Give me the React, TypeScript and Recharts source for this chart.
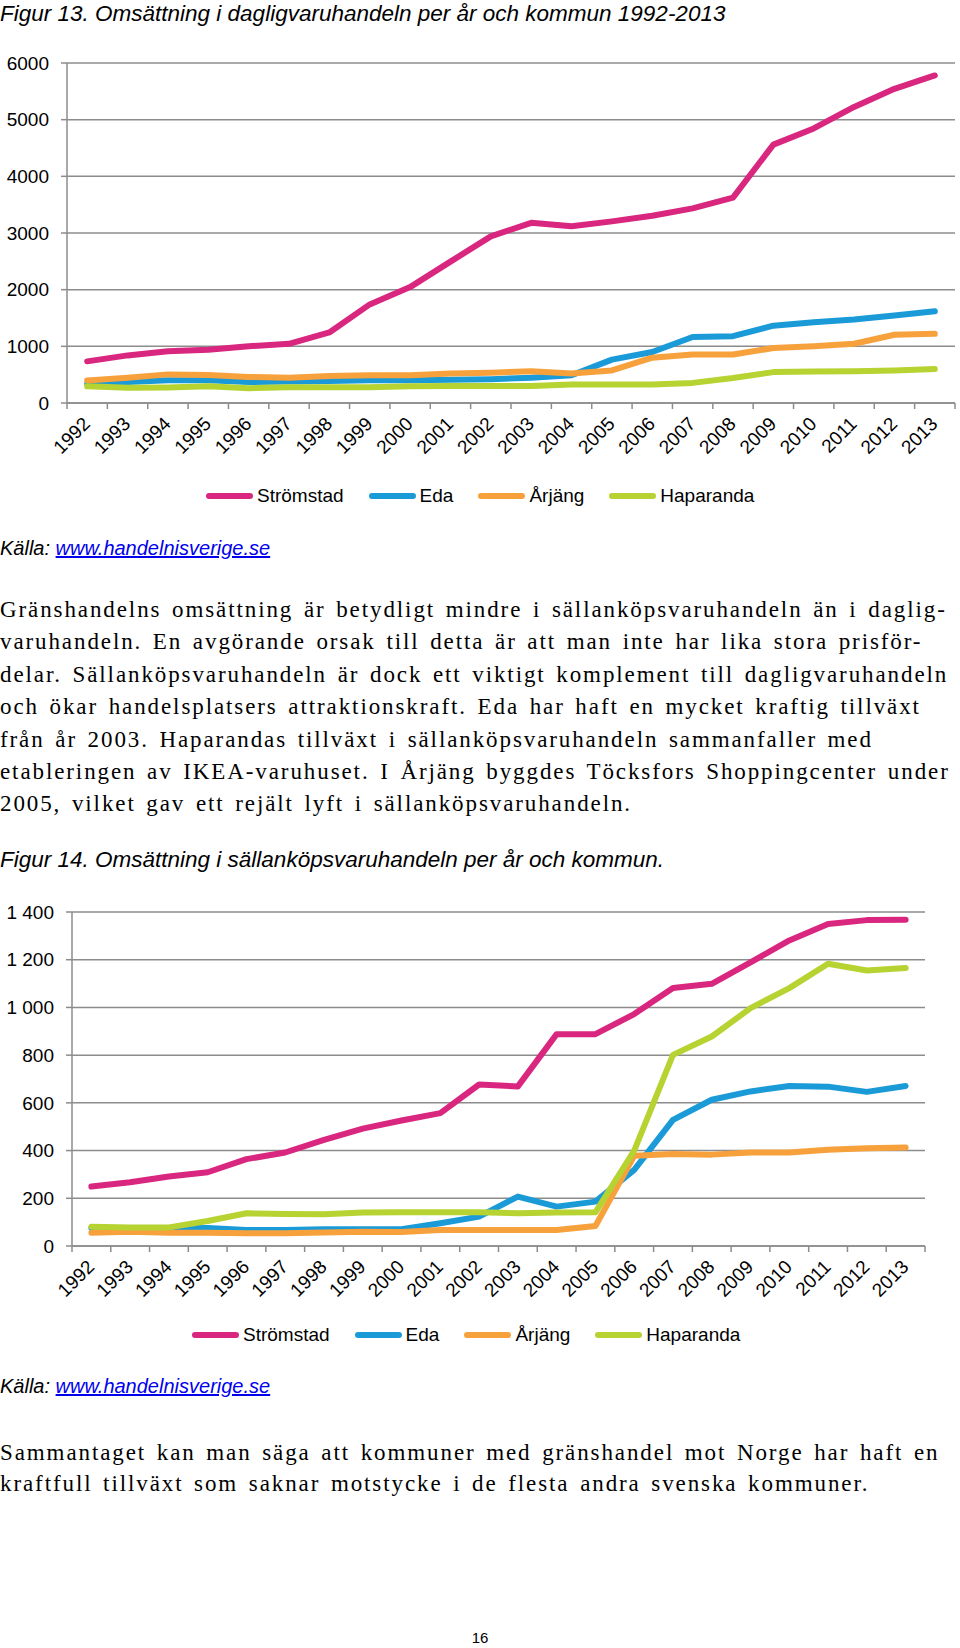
import React from 'react';
import { LineChart, Line, XAxis, YAxis, CartesianGrid } from 'recharts';

const years = [
  '1992', '1993', '1994', '1995', '1996', '1997', '1998', '1999', '2000', '2001', '2002',
  '2003', '2004', '2005', '2006', '2007', '2008', '2009', '2010', '2011', '2012', '2013',
];

// Figur 13 – dagligvaruhandeln
const stromstadDaglig = [735, 840, 915, 940, 1000, 1045, 1245, 1740, 2045, 2495, 2940, 3180, 3120, 3205, 3305, 3435, 3625, 4560, 4845, 5225, 5545, 5780];
const edaDaglig = [340, 370, 400, 400, 370, 380, 390, 400, 400, 410, 420, 445, 490, 765, 900, 1165, 1180, 1365, 1425, 1475, 1545, 1620];
const arjangDaglig = [395, 445, 505, 495, 460, 445, 475, 490, 490, 520, 535, 560, 520, 575, 800, 855, 855, 970, 1000, 1045, 1205, 1220];
const haparandaDaglig = [295, 270, 275, 295, 260, 280, 280, 280, 295, 300, 300, 300, 325, 325, 325, 355, 440, 545, 555, 560, 575, 600];
const dagligTicks = [0, 1000, 2000, 3000, 4000, 5000, 6000];

// Figur 14 – sällanköpsvaruhandeln
const stromstadSallan = [249, 267, 291, 309, 364, 392, 445, 492, 526, 557, 677, 669, 888, 888, 972, 1081, 1099, 1189, 1281, 1350, 1366, 1368];
const edaSallan = [75, 75, 75, 75, 67, 67, 70, 70, 70, 95, 123, 207, 165, 186, 319, 529, 613, 648, 671, 668, 646, 671];
const arjangSallan = [56, 60, 56, 56, 53, 53, 57, 60, 59, 67, 67, 67, 67, 84, 378, 386, 383, 392, 392, 403, 410, 413];
const haparandaSallan = [81, 78, 78, 105, 137, 134, 133, 140, 141, 141, 141, 137, 140, 141, 400, 801, 878, 997, 1081, 1183, 1155, 1165];
const sallanTicks = [0, 200, 400, 600, 800, 1000, 1200, 1400];

const seriesNames = ['Strömstad', 'Eda', 'Årjäng', 'Haparanda'];
const seriesKeys = ['stromstad', 'eda', 'arjang', 'haparanda'];
const seriesColors = ['#D9277F', '#1B9AD8', '#F7A13C', '#B6D332'];

const SANS = '"Liberation Sans", Arial, sans-serif';
const SERIF = '"Liberation Serif", "Times New Roman", serif';
const AXIS = '#8c8c8c';

const dagligData = years.map((year, i) => ({
  year,
  stromstad: stromstadDaglig[i],
  eda: edaDaglig[i],
  arjang: arjangDaglig[i],
  haparanda: haparandaDaglig[i],
}));

const sallanData = years.map((year, i) => ({
  year,
  stromstad: stromstadSallan[i],
  eda: edaSallan[i],
  arjang: arjangSallan[i],
  haparanda: haparandaSallan[i],
}));

function YearTick(props: any) {
  const { x, y, payload, index, band, count } = props;
  const left = x - band / 2;
  const right = x + band / 2;
  return (
    <g>
      <line x1={left} x2={left} y1={y} y2={y + 6} stroke={AXIS} strokeWidth={1.5} />
      {index === count - 1 && <line x1={right} x2={right} y1={y} y2={y + 6} stroke={AXIS} strokeWidth={1.5} />}
      <text
        x={x + 4}
        y={y + 22}
        transform={`rotate(-45 ${x + 4} ${y + 22})`}
        textAnchor="end"
        fontSize={19}
        fontFamily={SANS}
        fill="#000"
      >
        {payload.value}
      </text>
    </g>
  );
}

interface ChartProps {
  data: any[];
  ticks: number[];
  max: number;
  axisWidth: number;
  marginRight: number;
  marginTop: number;
  height: number;
  format?: (v: number) => string;
}

function TradeChart({ data, ticks, max, axisWidth, marginRight, marginTop, height, format }: ChartProps) {
  const band = (960 - axisWidth - marginRight) / years.length;
  return (
    <LineChart width={960} height={height} data={data} margin={{ top: marginTop, right: marginRight, left: 0, bottom: 4 }}>
      <CartesianGrid vertical={false} stroke={AXIS} strokeWidth={1.5} />
      <XAxis
        dataKey="year"
        interval={0}
        padding={{ left: band / 2, right: band / 2 }}
        height={60}
        tickSize={0}
        tickMargin={0}
        axisLine={{ stroke: AXIS, strokeWidth: 1.5 }}
        tickLine={false}
        tick={(p: any) => <YearTick {...p} band={band} count={years.length} />}
      />
      <YAxis
        width={axisWidth}
        domain={[0, max]}
        ticks={ticks}
        interval={0}
        tickSize={6}
        tickMargin={12}
        axisLine={{ stroke: AXIS, strokeWidth: 1.5 }}
        tickLine={{ stroke: AXIS, strokeWidth: 1.5 }}
        tick={{ fill: '#000', fontSize: 19, fontFamily: SANS }}
        tickFormatter={format}
      />
      {seriesKeys.map((key, i) => (
        <Line
          key={key}
          type="linear"
          dataKey={key}
          stroke={seriesColors[i]}
          strokeWidth={6}
          strokeLinejoin="round"
          strokeLinecap="round"
          dot={false}
          isAnimationActive={false}
        />
      ))}
    </LineChart>
  );
}

function ChartLegend({ left, top }: { left: number; top: number }) {
  return (
    <div style={{ position: 'absolute', left, top, display: 'flex', alignItems: 'center', fontFamily: SANS, fontSize: 19 }}>
      {seriesNames.map((name, i) => (
        <div key={name} style={{ display: 'flex', alignItems: 'center', marginRight: 25 }}>
          <span style={{ display: 'inline-block', width: 47, height: 6, borderRadius: 3, background: seriesColors[i], marginRight: 4 }} />
          <span>{name}</span>
        </div>
      ))}
    </div>
  );
}

function Source({ top }: { top: number }) {
  return (
    <div style={{ position: 'absolute', left: 0, top, fontFamily: SANS, fontSize: 20, fontStyle: 'italic', lineHeight: '24px' }}>
      Källa: <span style={{ color: '#0000ee', textDecoration: 'underline' }}>www.handelnisverige.se</span>
    </div>
  );
}

const para1 = [
  'Gränshandelns omsättning är betydligt mindre i sällanköpsvaruhandeln än i daglig-',
  'varuhandeln. En avgörande orsak till detta är att man inte har lika stora prisför-',
  'delar. Sällanköpsvaruhandeln är dock ett viktigt komplement till dagligvaruhandeln',
  'och ökar handelsplatsers attraktionskraft. Eda har haft en mycket kraftig tillväxt',
  'från år 2003. Haparandas tillväxt i sällanköpsvaruhandeln sammanfaller med',
  'etableringen av IKEA-varuhuset. I Årjäng byggdes Töcksfors Shoppingcenter under',
  '2005, vilket gav ett rejält lyft i sällanköpsvaruhandeln.',
];

const para2 = [
  'Sammantaget kan man säga att kommuner med gränshandel mot Norge har haft en',
  'kraftfull tillväxt som saknar motstycke i de flesta andra svenska kommuner.',
];

function Paragraph({ lines, top, lineHeight }: { lines: string[]; top: number; lineHeight: number }) {
  return (
    <div
      style={{
        position: 'absolute',
        left: 0,
        top,
        fontFamily: SERIF,
        fontSize: 23,
        letterSpacing: 1.9,
        wordSpacing: 3,
        lineHeight: `${lineHeight}px`,
        whiteSpace: 'nowrap',
      }}
    >
      {lines.map((l) => (
        <div key={l}>{l}</div>
      ))}
    </div>
  );
}

function Caption({ text, top }: { text: string; top: number }) {
  return (
    <div style={{ position: 'absolute', left: 0, top, fontFamily: SANS, fontSize: 22.5, fontStyle: 'italic', lineHeight: '28px', whiteSpace: 'nowrap' }}>
      {text}
    </div>
  );
}

export default function App() {
  return (
    <div style={{ position: 'absolute', left: 0, top: 0, width: 960, height: 1648, background: '#fff', overflow: 'hidden' }}>
      <Caption text="Figur 13. Omsättning i dagligvaruhandeln per år och kommun 1992-2013" top={0} />
      <div style={{ position: 'absolute', left: 0, top: 0 }}>
        <TradeChart data={dagligData} ticks={dagligTicks} max={6000} axisWidth={67} marginRight={5} marginTop={63} height={467} />
      </div>
      <ChartLegend left={206} top={485} />
      <Source top={536} />

      <Paragraph lines={para1} top={594} lineHeight={32.4} />
      <Caption text="Figur 14. Omsättning i sällanköpsvaruhandeln per år och kommun." top={846} />

      <div style={{ position: 'absolute', left: 0, top: 850 }}>
        <TradeChart
          data={sallanData}
          ticks={sallanTicks}
          max={1400}
          axisWidth={72}
          marginRight={35}
          marginTop={62}
          height={460}
          format={(v: number) => (v >= 1000 ? `${Math.floor(v / 1000)} ${String(v % 1000).padStart(3, '0')}` : String(v))}
        />
      </div>
      <ChartLegend left={192} top={1324} />
      <Source top={1374} />

      <Paragraph lines={para2} top={1437} lineHeight={31} />
      <div style={{ position: 'absolute', left: 0, width: 960, top: 1629, textAlign: 'center', fontFamily: SANS, fontSize: 15, lineHeight: '18px' }}>16</div>
    </div>
  );
}
